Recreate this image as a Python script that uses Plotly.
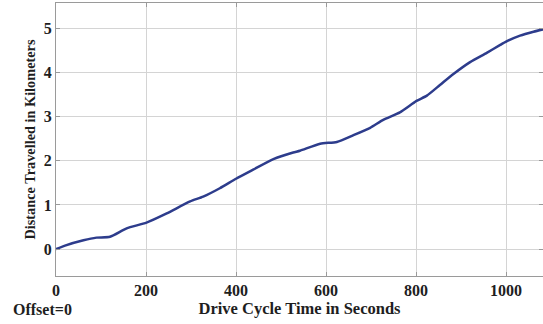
import plotly.graph_objects as go

time_s = [0, 20, 61, 90, 120, 157, 201, 246, 298, 327, 364, 401, 438, 483, 527, 542, 587,
          624, 660, 698, 727, 764, 801, 824, 853, 883, 920, 957, 987, 1001, 1031, 1061, 1085]
distance_km = [0.0, 0.08, 0.2, 0.26, 0.28, 0.47, 0.6, 0.81, 1.08, 1.19, 1.38, 1.6, 1.8, 2.04,
               2.19, 2.23, 2.39, 2.43, 2.58, 2.75, 2.93, 3.1, 3.36, 3.48, 3.72, 3.97, 4.24,
               4.45, 4.63, 4.71, 4.84, 4.93, 4.99]
x_ticks = [0, 200, 400, 600, 800, 1000]
y_ticks = [0, 1, 2, 3, 4, 5]

font_family = "Liberation Serif"
txt_color = "#1e1e1e"

fig = go.Figure()
fig.add_trace(go.Scatter(x=time_s, y=distance_km, mode="lines",
                         line=dict(color="#2d3c8c", width=2.5, shape="spline", smoothing=0.6),
                         showlegend=False))

axis_common = dict(showgrid=True, gridcolor="#d4d4d4", gridwidth=1, zeroline=False,
                   showline=True, linecolor="#9a9a9a", linewidth=1, mirror="ticks",
                   ticks="inside", ticklen=4, tickcolor="#9a9a9a",
                   tickfont=dict(family=font_family, size=16, color=txt_color))

fig.update_xaxes(range=[0, 1082], tickvals=x_ticks, ticktext=[f"<b>{v}</b>" for v in x_ticks],
                 title=dict(text="<b>Drive Cycle Time in Seconds</b>", standoff=2,
                            font=dict(family=font_family, size=16.5, color=txt_color)),
                 **axis_common)
fig.update_yaxes(range=[-0.61, 5.58], tickvals=y_ticks, ticktext=[f"<b>{v}</b>" for v in y_ticks],
                 title=dict(text="<b>Distance Travelled in Kilometers</b>", standoff=4,
                            font=dict(family=font_family, size=14.3, color=txt_color)),
                 **axis_common)

fig.add_annotation(text="<b>Offset=0</b>", xref="paper", yref="paper", x=-0.092, y=-0.121,
                   xanchor="left", yanchor="middle", showarrow=False,
                   font=dict(family=font_family, size=16, color=txt_color))

fig.update_layout(width=543, height=324, margin=dict(l=56, r=0, t=3, b=48),
                  plot_bgcolor="white", paper_bgcolor="white")

fig.write_html("out.html")
